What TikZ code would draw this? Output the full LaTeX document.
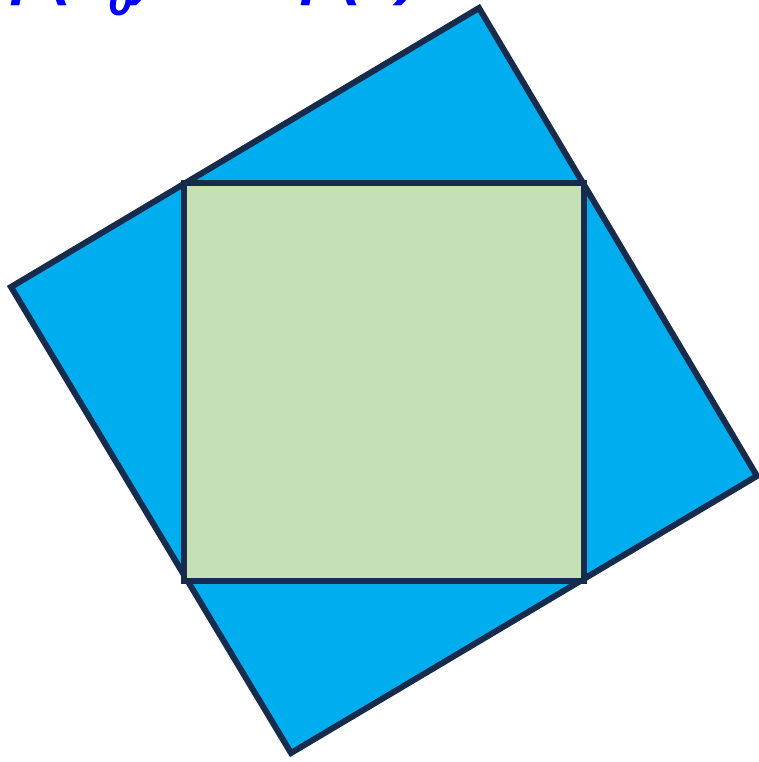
\documentclass[tikz,border=0pt]{standalone}
\usepackage{fontspec}
\setmainfont{Liberation Sans}
\definecolor{skyb}{RGB}{0,174,239}
\definecolor{sage}{RGB}{197,224,180}
\definecolor{navyedge}{RGB}{23,43,77}
\definecolor{labelblue}{RGB}{0,0,255}
\begin{document}
\begin{tikzpicture}[x=1pt,y=-1pt,
  sqedge/.style={draw=navyedge,line width=6pt,line join=miter},
  lbl/.style={inner sep=0pt,anchor=base west,text=labelblue,font=\fontsize{64}{64}\selectfont\bfseries\itshape}]
\useasboundingbox (0,0) rectangle (759,762);
\coordinate (t) at (479,8);
\coordinate (r) at (757,476);
\coordinate (b) at (291,753);
\coordinate (l) at (11,287);
\filldraw[sqedge,fill=skyb] (t) -- (r) -- (b) -- (l) -- cycle;
\coordinate (g1) at (184,183);
\coordinate (g2) at (584,183);
\coordinate (g3) at (584,581);
\coordinate (g4) at (184,581);
\filldraw[sqedge,fill=sage] (g1) -- (g2) -- (g3) -- (g4) -- cycle;
\node[lbl] (p0) at (12,-7) {p(x\textsubscript{0})};
\node[lbl] (p1) at (302,-7) {p(x)};
\end{tikzpicture}
\end{document}
